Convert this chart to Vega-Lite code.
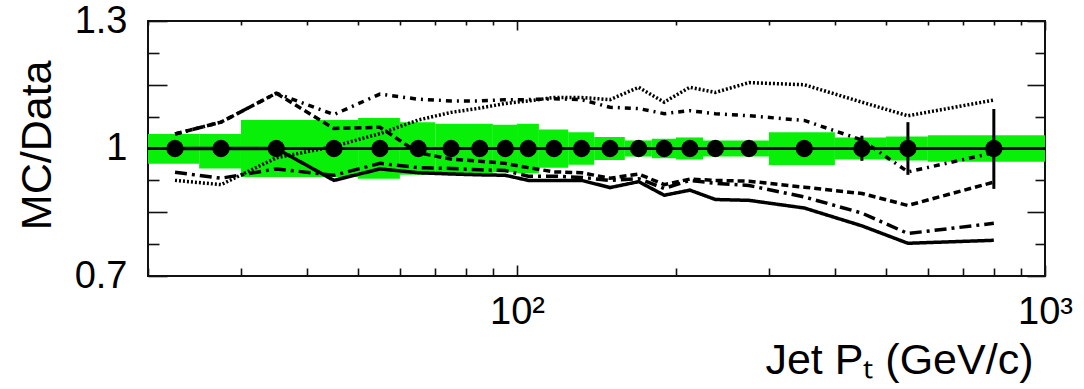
{
  "$schema": "https://vega.github.io/schema/vega-lite/v6.json",
  "width": 897,
  "height": 255,
  "autosize": {"type": "none"},
  "padding": {"left": 148, "top": 21, "right": 39, "bottom": 113},
  "background": "white",
  "config": {
    "view": {"stroke": "#111", "strokeWidth": 2},
    "font": "Liberation Sans",
    "axis": {"domain": false, "grid": false, "tickColor": "#111", "tickWidth": 1.6, "labelFont": "Liberation Sans", "titleFont": "Liberation Sans", "labelColor": "#000", "titleColor": "#000", "zindex": 1, "labelFlush": false, "labelOverlap": false, "labelBound": false, "titleFontWeight": "normal"}
  },
  "resolve": {"axis": {"x": "independent", "y": "independent"}},
  "datasets": {
    "band": [
      {"lo": 20, "hi": 25, "ylo": 0.964, "yhi": 1.034},
      {"lo": 25, "hi": 30, "ylo": 0.953, "yhi": 1.034},
      {"lo": 30, "hi": 50, "ylo": 0.933, "yhi": 1.067},
      {"lo": 50, "hi": 60, "ylo": 0.929, "yhi": 1.072},
      {"lo": 60, "hi": 70, "ylo": 0.938, "yhi": 1.062},
      {"lo": 70, "hi": 90, "ylo": 0.942, "yhi": 1.058},
      {"lo": 90, "hi": 100, "ylo": 0.944, "yhi": 1.056},
      {"lo": 100, "hi": 110, "ylo": 0.942, "yhi": 1.058},
      {"lo": 110, "hi": 125, "ylo": 0.955, "yhi": 1.045},
      {"lo": 125, "hi": 140, "ylo": 0.962, "yhi": 1.038},
      {"lo": 140, "hi": 160, "ylo": 0.973, "yhi": 1.027},
      {"lo": 160, "hi": 180, "ylo": 0.981, "yhi": 1.019},
      {"lo": 180, "hi": 200, "ylo": 0.977, "yhi": 1.023},
      {"lo": 200, "hi": 225, "ylo": 0.974, "yhi": 1.026},
      {"lo": 225, "hi": 300, "ylo": 0.981, "yhi": 1.019},
      {"lo": 300, "hi": 400, "ylo": 0.961, "yhi": 1.038},
      {"lo": 400, "hi": 500, "ylo": 0.974, "yhi": 1.026},
      {"lo": 500, "hi": 600, "ylo": 0.972, "yhi": 1.028},
      {"lo": 600, "hi": 1000, "ylo": 0.969, "yhi": 1.031}
    ],
    "points": [
      {"pt": 22.5, "v": 1, "lo": 0.995, "hi": 1.005},
      {"pt": 27.5, "v": 1, "lo": 0.995, "hi": 1.005},
      {"pt": 35, "v": 1, "lo": 0.995, "hi": 1.005},
      {"pt": 45, "v": 1, "lo": 0.995, "hi": 1.005},
      {"pt": 55, "v": 1, "lo": 0.995, "hi": 1.005},
      {"pt": 65, "v": 1, "lo": 0.995, "hi": 1.005},
      {"pt": 75, "v": 1, "lo": 0.995, "hi": 1.005},
      {"pt": 85, "v": 1, "lo": 0.995, "hi": 1.005},
      {"pt": 95, "v": 1, "lo": 0.995, "hi": 1.005},
      {"pt": 105, "v": 1, "lo": 0.995, "hi": 1.005},
      {"pt": 117.5, "v": 1, "lo": 0.995, "hi": 1.005},
      {"pt": 132.5, "v": 1, "lo": 0.995, "hi": 1.005},
      {"pt": 150, "v": 1, "lo": 0.994, "hi": 1.006},
      {"pt": 170, "v": 1, "lo": 0.994, "hi": 1.006},
      {"pt": 190, "v": 1, "lo": 0.993, "hi": 1.007},
      {"pt": 212.5, "v": 1, "lo": 0.992, "hi": 1.008},
      {"pt": 237.5, "v": 1, "lo": 0.99, "hi": 1.01},
      {"pt": 275, "v": 1, "lo": 0.988, "hi": 1.012},
      {"pt": 350, "v": 1, "lo": 0.985, "hi": 1.015},
      {"pt": 450, "v": 1, "lo": 0.971, "hi": 1.03},
      {"pt": 550, "v": 1, "lo": 0.938, "hi": 1.062},
      {"pt": 800, "v": 1, "lo": 0.905, "hi": 1.093}
    ],
    "curves": [
      {"s": "dotted", "pt": 22.5, "v": 0.925}, {"s": "dotted", "pt": 27.5, "v": 0.915}, {"s": "dotted", "pt": 35, "v": 0.978}, {"s": "dotted", "pt": 45, "v": 1.005}, {"s": "dotted", "pt": 55, "v": 1.035}, {"s": "dotted", "pt": 65, "v": 1.067}, {"s": "dotted", "pt": 75, "v": 1.085}, {"s": "dotted", "pt": 85, "v": 1.095}, {"s": "dotted", "pt": 95, "v": 1.106}, {"s": "dotted", "pt": 105, "v": 1.112}, {"s": "dotted", "pt": 117.5, "v": 1.12}, {"s": "dotted", "pt": 132.5, "v": 1.12}, {"s": "dotted", "pt": 150, "v": 1.115}, {"s": "dotted", "pt": 170, "v": 1.144}, {"s": "dotted", "pt": 190, "v": 1.109}, {"s": "dotted", "pt": 212.5, "v": 1.144}, {"s": "dotted", "pt": 237.5, "v": 1.132}, {"s": "dotted", "pt": 275, "v": 1.155}, {"s": "dotted", "pt": 350, "v": 1.15}, {"s": "dotted", "pt": 450, "v": 1.109}, {"s": "dotted", "pt": 550, "v": 1.077}, {"s": "dotted", "pt": 800, "v": 1.114},
      {"s": "dashdotA", "pt": 22.5, "v": 1.034}, {"s": "dashdotA", "pt": 27.5, "v": 1.062}, {"s": "dashdotA", "pt": 35, "v": 1.13}, {"s": "dashdotA", "pt": 45, "v": 1.08}, {"s": "dashdotA", "pt": 55, "v": 1.128}, {"s": "dashdotA", "pt": 65, "v": 1.116}, {"s": "dashdotA", "pt": 75, "v": 1.112}, {"s": "dashdotA", "pt": 85, "v": 1.112}, {"s": "dashdotA", "pt": 95, "v": 1.115}, {"s": "dashdotA", "pt": 105, "v": 1.115}, {"s": "dashdotA", "pt": 117.5, "v": 1.117}, {"s": "dashdotA", "pt": 132.5, "v": 1.115}, {"s": "dashdotA", "pt": 150, "v": 1.097}, {"s": "dashdotA", "pt": 170, "v": 1.094}, {"s": "dashdotA", "pt": 190, "v": 1.082}, {"s": "dashdotA", "pt": 212.5, "v": 1.089}, {"s": "dashdotA", "pt": 237.5, "v": 1.082}, {"s": "dashdotA", "pt": 275, "v": 1.077}, {"s": "dashdotA", "pt": 350, "v": 1.066}, {"s": "dashdotA", "pt": 450, "v": 1.02}, {"s": "dashdotA", "pt": 550, "v": 0.945}, {"s": "dashdotA", "pt": 800, "v": 0.99},
      {"s": "dashed", "pt": 22.5, "v": 1.034}, {"s": "dashed", "pt": 27.5, "v": 1.062}, {"s": "dashed", "pt": 35, "v": 1.13}, {"s": "dashed", "pt": 45, "v": 1.047}, {"s": "dashed", "pt": 55, "v": 1.05}, {"s": "dashed", "pt": 65, "v": 0.99}, {"s": "dashed", "pt": 75, "v": 0.975}, {"s": "dashed", "pt": 85, "v": 0.97}, {"s": "dashed", "pt": 95, "v": 0.965}, {"s": "dashed", "pt": 105, "v": 0.955}, {"s": "dashed", "pt": 117.5, "v": 0.945}, {"s": "dashed", "pt": 132.5, "v": 0.943}, {"s": "dashed", "pt": 150, "v": 0.93}, {"s": "dashed", "pt": 170, "v": 0.94}, {"s": "dashed", "pt": 190, "v": 0.915}, {"s": "dashed", "pt": 212.5, "v": 0.928}, {"s": "dashed", "pt": 237.5, "v": 0.925}, {"s": "dashed", "pt": 275, "v": 0.923}, {"s": "dashed", "pt": 350, "v": 0.909}, {"s": "dashed", "pt": 450, "v": 0.894}, {"s": "dashed", "pt": 550, "v": 0.866}, {"s": "dashed", "pt": 800, "v": 0.921},
      {"s": "dashdotB", "pt": 22.5, "v": 0.944}, {"s": "dashdotB", "pt": 27.5, "v": 0.93}, {"s": "dashdotB", "pt": 35, "v": 0.952}, {"s": "dashdotB", "pt": 45, "v": 0.937}, {"s": "dashdotB", "pt": 55, "v": 0.965}, {"s": "dashdotB", "pt": 65, "v": 0.955}, {"s": "dashdotB", "pt": 75, "v": 0.953}, {"s": "dashdotB", "pt": 85, "v": 0.95}, {"s": "dashdotB", "pt": 95, "v": 0.948}, {"s": "dashdotB", "pt": 105, "v": 0.935}, {"s": "dashdotB", "pt": 117.5, "v": 0.935}, {"s": "dashdotB", "pt": 132.5, "v": 0.932}, {"s": "dashdotB", "pt": 150, "v": 0.925}, {"s": "dashdotB", "pt": 170, "v": 0.929}, {"s": "dashdotB", "pt": 190, "v": 0.906}, {"s": "dashdotB", "pt": 212.5, "v": 0.925}, {"s": "dashdotB", "pt": 237.5, "v": 0.918}, {"s": "dashdotB", "pt": 275, "v": 0.913}, {"s": "dashdotB", "pt": 350, "v": 0.886}, {"s": "dashdotB", "pt": 450, "v": 0.848}, {"s": "dashdotB", "pt": 550, "v": 0.8}, {"s": "dashdotB", "pt": 800, "v": 0.824},
      {"s": "solid", "pt": 22.5, "v": 1.0}, {"s": "solid", "pt": 27.5, "v": 1.0}, {"s": "solid", "pt": 35, "v": 1.0}, {"s": "solid", "pt": 45, "v": 0.925}, {"s": "solid", "pt": 55, "v": 0.952}, {"s": "solid", "pt": 65, "v": 0.943}, {"s": "solid", "pt": 75, "v": 0.94}, {"s": "solid", "pt": 85, "v": 0.938}, {"s": "solid", "pt": 95, "v": 0.937}, {"s": "solid", "pt": 105, "v": 0.925}, {"s": "solid", "pt": 117.5, "v": 0.925}, {"s": "solid", "pt": 132.5, "v": 0.925}, {"s": "solid", "pt": 150, "v": 0.908}, {"s": "solid", "pt": 170, "v": 0.922}, {"s": "solid", "pt": 190, "v": 0.89}, {"s": "solid", "pt": 212.5, "v": 0.902}, {"s": "solid", "pt": 237.5, "v": 0.88}, {"s": "solid", "pt": 275, "v": 0.878}, {"s": "solid", "pt": 350, "v": 0.86}, {"s": "solid", "pt": 450, "v": 0.818}, {"s": "solid", "pt": 550, "v": 0.777}, {"s": "solid", "pt": 800, "v": 0.784}
    ]
  },
  "layer": [
    {
      "data": {"name": "band"},
      "mark": {"type": "rect", "color": "#08f008"},
      "encoding": {
        "x": {"field": "lo", "type": "quantitative", "scale": {"type": "log", "domain": [20, 1000], "nice": false},
          "axis": {"orient": "bottom", "values": [100, 1000], "labelExpr": "datum.value < 500 ? '10²' : '10³'", "tickSize": -11, "labelPadding": 28, "labelFontSize": 38, "labelBaseline": "top", "labelAlign": "center",
            "title": "Jet Pₜ (GeV/c)", "titleFontSize": 43, "titleX": 885, "titleY": 97, "titleAlign": "right", "titleBaseline": "alphabetic", "titleAngle": 0}},
        "x2": {"field": "hi"},
        "y": {"field": "ylo", "type": "quantitative", "scale": {"domain": [0.7, 1.3], "nice": false, "zero": false},
          "axis": {"orient": "left", "values": [0.7, 0.85, 1, 1.15, 1.3], "labelExpr": "datum.value < 0.75 ? '0.7' : (abs(datum.value - 1) < 0.01 ? '1' : (datum.value > 1.25 ? '1.3' : ''))", "tickSize": -19, "labelPadding": 40, "labelFontSize": 38, "labelAlign": "right", "labelBaseline": "middle",
            "title": "MC/Data", "titleFontSize": 43, "titleX": -98, "titleY": 39, "titleAngle": -90, "titleAlign": "right", "titleBaseline": "alphabetic"}},
        "y2": {"field": "yhi"}
      }
    },
    {
      "data": {"name": "curves"},
      "mark": {"type": "line", "strokeWidth": 3.5, "color": "#000"},
      "encoding": {
        "x": {"field": "pt", "type": "quantitative", "scale": {"type": "log", "domain": [20, 1000], "nice": false},
          "axis": {"orient": "bottom", "values": [20, 30, 40, 50, 60, 70, 80, 90, 200, 300, 400, 500, 600, 700, 800, 900], "labels": false, "tickSize": -8, "title": null}},
        "y": {"field": "v", "type": "quantitative", "scale": {"domain": [0.7, 1.3], "nice": false, "zero": false},
          "axis": {"orient": "left", "values": [0.775, 0.925, 1.075, 1.225], "labels": false, "tickSize": -11, "title": null}},
        "detail": {"field": "s", "type": "nominal"},
        "strokeDash": {"field": "s", "type": "nominal", "scale": {"domain": ["solid", "dashed", "dotted", "dashdotA", "dashdotB"], "range": [[1, 0], [7, 4], [2, 2], [6, 5, 2, 5], [12, 5, 3, 5]]}, "legend": null}
      }
    },
    {
      "data": {"values": [{"ref": 1}]},
      "mark": {"type": "rule", "strokeWidth": 3, "color": "#000"},
      "encoding": {
        "y": {"field": "ref", "type": "quantitative", "scale": {"domain": [0.7, 1.3], "nice": false, "zero": false},
          "axis": {"orient": "right", "values": [0.7, 0.85, 1, 1.15, 1.3], "labels": false, "tickSize": -18, "title": null}}
      }
    },
    {
      "data": {"name": "points"},
      "mark": {"type": "rule", "strokeWidth": 3, "color": "#000"},
      "encoding": {
        "x": {"field": "pt", "type": "quantitative", "scale": {"type": "log", "domain": [20, 1000], "nice": false},
          "axis": {"orient": "top", "values": [100, 1000], "labels": false, "tickSize": -9, "title": null}},
        "y": {"field": "lo", "type": "quantitative", "scale": {"domain": [0.7, 1.3], "nice": false, "zero": false},
          "axis": {"orient": "right", "values": [0.775, 0.925, 1.075, 1.225], "labels": false, "tickSize": -10, "title": null}},
        "y2": {"field": "hi"}
      }
    },
    {
      "data": {"name": "points"},
      "mark": {"type": "circle", "size": 300, "color": "#000", "opacity": 1},
      "encoding": {
        "x": {"field": "pt", "type": "quantitative", "scale": {"type": "log", "domain": [20, 1000], "nice": false},
          "axis": {"orient": "top", "values": [20, 30, 40, 50, 60, 70, 80, 90, 200, 300, 400, 500, 600, 700, 800, 900], "labels": false, "tickSize": -4, "title": null}},
        "y": {"field": "v", "type": "quantitative", "scale": {"domain": [0.7, 1.3], "nice": false, "zero": false}, "axis": null}
      }
    }
  ]
}
